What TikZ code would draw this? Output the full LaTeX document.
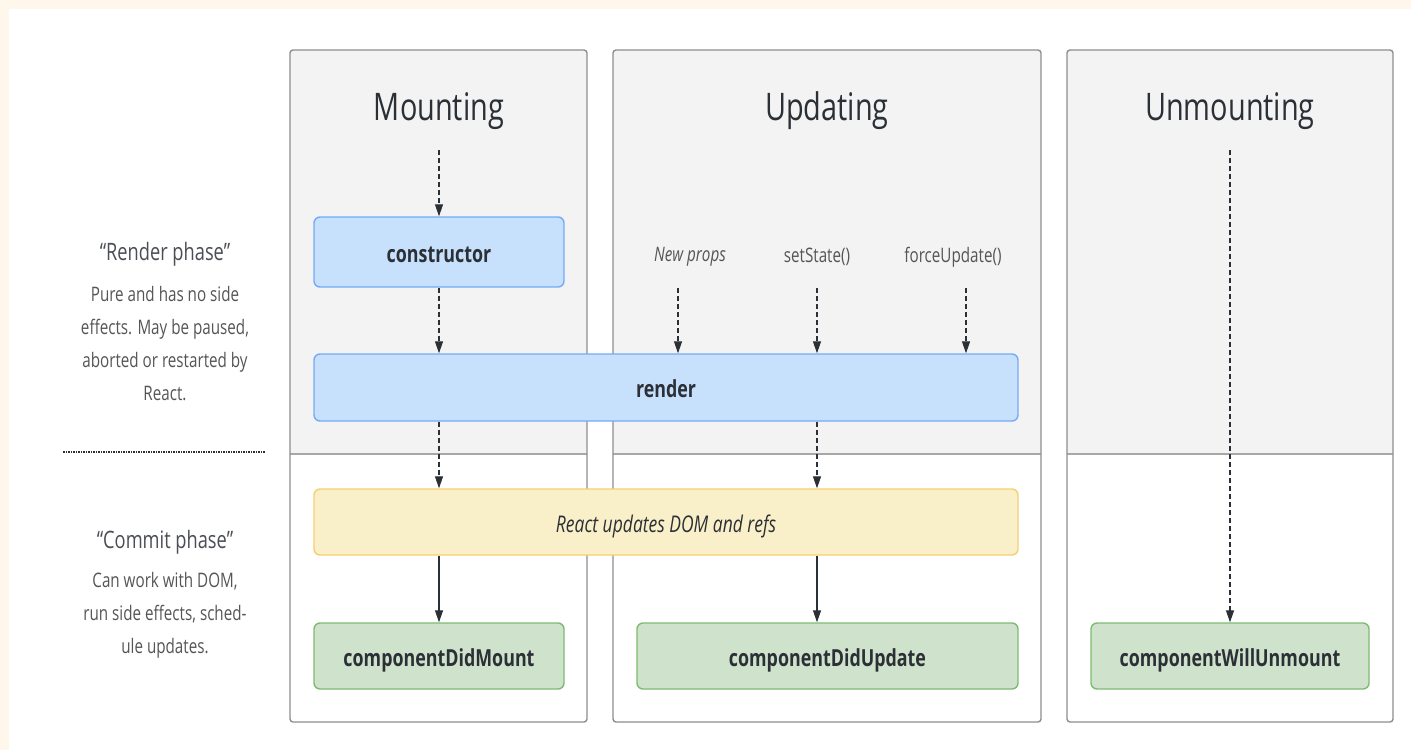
\documentclass[tikz,border=0pt]{standalone}
\usepackage{fontspec}
\setmainfont[FakeStretch=0.76]{Open Sans}
\usetikzlibrary{arrows.meta}

\definecolor{cream}{HTML}{FFF7EB}
\definecolor{colgray}{HTML}{F3F3F3}
\definecolor{colline}{HTML}{8E8E8E}
\definecolor{divline}{HTML}{A8A8A8}
\definecolor{bluefill}{HTML}{C7E0FC}
\definecolor{blueline}{HTML}{74ABF7}
\definecolor{yellowfill}{HTML}{F9EFC8}
\definecolor{yellowline}{HTML}{F6D06E}
\definecolor{greenfill}{HTML}{CFE2CB}
\definecolor{greenline}{HTML}{7DBB72}
\definecolor{inkc}{HTML}{2B2F36}
\definecolor{softc}{HTML}{555555}

\begin{document}
\begin{tikzpicture}[x=1pt, y=-1pt,
    title/.style ={text=inkc, font=\fontsize{38}{44}\selectfont},
    procbox/.style ={rounded corners=6pt, line width=1.4pt, text=inkc,
                     text height=20pt, text depth=0pt,
                     font=\fontsize{23.5}{28}\selectfont\bfseries},
    blueproc/.style ={procbox, fill=bluefill, draw=blueline},
    yellowproc/.style ={procbox, fill=yellowfill, draw=yellowline,
                        font=\fontsize{23}{28}\selectfont\itshape},
    greenproc/.style ={procbox, fill=greenfill, draw=greenline},
    trigger/.style ={text=softc, font=\fontsize{20}{24}\selectfont},
    phase/.style ={text=inkc!85, font=\fontsize{24}{30}\selectfont},
    phasenote/.style ={text=softc, align=center,
                       font=\fontsize{20}{33}\selectfont},
    flow/.style ={draw=inkc, line width=1.2pt,
                  -{Triangle[length=12pt,width=8pt]}},
    dflow/.style ={flow, dash pattern=on 5pt off 3pt}]
   \useasboundingbox (0,0) rectangle (1411,750);
   \fill[cream] (0,0) rectangle (1411,750);
   \fill[white] (9,9) rectangle (1411,750);

   % the three columns
   \foreach \xa/\xb in {290/587, 613/1041, 1067/1393} {
     \begin{scope}
       \clip[rounded corners=3pt] (\xa,50) rectangle (\xb,722);
       \fill[colgray] (\xa,50) rectangle (\xb,454);
     \end{scope}
     \draw[divline, line width=1.2pt] (\xa,454) -- (\xb,454);
     \draw[colline, line width=1.4pt, rounded corners=3pt] (\xa,50) rectangle (\xb,722);
   }

   \node[title] (MT) at (439,111) {Mounting};
   \node[title] (UT) at (827,111) {Updating};
   \node[title] (XT) at (1230,111) {Unmounting};

   \node[blueproc, minimum width=250pt, minimum height=70pt] (CT) at (439,252) {constructor};
   \node[blueproc, minimum width=704pt, minimum height=67pt] (RE) at (666,387.5) {render};
   \node[yellowproc, minimum width=704pt, minimum height=66pt] (DOM) at (666,522) {React updates DOM and refs};
   \node[greenproc, minimum width=250pt, minimum height=66pt] (DM) at (439,656) {componentDidMount};
   \node[greenproc, minimum width=381pt, minimum height=66pt] (DU) at (827.5,656) {componentDidUpdate};
   \node[greenproc, minimum width=278pt, minimum height=66pt] (WU) at (1230,656) {componentWillUnmount};

   \node[trigger, font=\fontsize{20}{24}\selectfont\itshape] (NP) at (690,257) {New props};
   \node[trigger] (SS) at (817,257) {setState()};
   \node[trigger] (FU) at (953,257) {forceUpdate()};

   \coordinate (mstart) at (439,150);
   \coordinate (xstart) at (1230,150);
   \coordinate (npstart) at (678,288);
   \coordinate (ssstart) at (817,288);
   \coordinate (fustart) at (966,288);

   % mounting
   \draw[dflow] (mstart) -- (CT.north);
   \draw[dflow] (CT.south) -- (CT.south |- RE.north);
   \draw[dflow] (CT.south |- RE.south) -- (CT.south |- DOM.north);
   \draw[flow] (CT.south |- DOM.south) -- (DM.north);

   % updating
   \draw[dflow] (npstart) -- (npstart |- RE.north);
   \draw[dflow] (ssstart) -- (ssstart |- RE.north);
   \draw[dflow] (fustart) -- (fustart |- RE.north);
   \draw[dflow] (ssstart |- RE.south) -- (ssstart |- DOM.north);
   \draw[flow] (ssstart |- DOM.south) -- (ssstart |- DU.north);

   % unmounting
   \draw[dflow] (xstart) -- (WU.north);

   % phases
   \node[phase] (RP) at (165,254) {“Render phase”};
   \node[phasenote, anchor=north] (RN) at (165,283) {Pure and has no side\\effects. May be paused,\\aborted or restarted by\\React.};
   \node[phase] (CP) at (165,542) {“Commit phase”};
   \node[phasenote, anchor=north] (CN) at (165,569) {Can work with DOM,\\run side effects, sched-\\ule updates.};
   \draw[inkc, line width=2.5pt, dash pattern=on 1.5pt off 1pt] (63,452) -- (265,452);
 \end{tikzpicture}
\end{document}
